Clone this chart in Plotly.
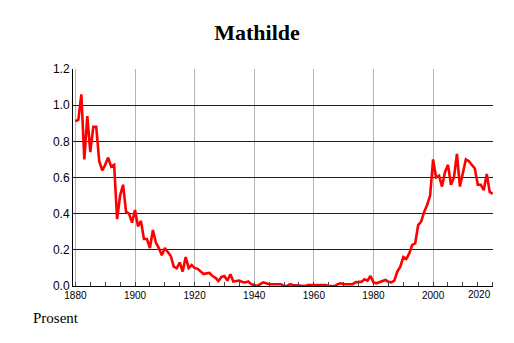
import plotly.graph_objects as go

# Andel (prosent) av nyfødte jenter som fikk navnet Mathilde, 1880–2020
years = list(range(1880, 2021))

pct_1880_1899 = [0.91, 0.92, 1.06, 0.70, 0.94, 0.74, 0.88, 0.88, 0.69, 0.64,
                 0.67, 0.71, 0.66, 0.67, 0.37, 0.50, 0.56, 0.41, 0.40, 0.35]
pct_1900_1919 = [0.42, 0.33, 0.36, 0.26, 0.26, 0.21, 0.31, 0.24, 0.21, 0.17,
                 0.21, 0.19, 0.166, 0.107, 0.098, 0.13, 0.08, 0.16, 0.10, 0.116]
pct_1920_1939 = [0.10, 0.095, 0.08, 0.066, 0.07, 0.072, 0.055, 0.045, 0.028, 0.05,
                 0.055, 0.03, 0.065, 0.025, 0.028, 0.03, 0.022, 0.02, 0.025, 0.01]
pct_1940_1959 = [0.005, 0.0, 0.01, 0.02, 0.015, 0.01, 0.01, 0.008, 0.01, 0.01,
                 0.0, 0.0, 0.01, 0.006, 0.005, 0.005, 0.0, 0.0, 0.005, 0.005]
pct_1960_1979 = [0.005, 0.005, 0.005, 0.005, 0.005, 0.0, 0.0, 0.0, 0.01, 0.015,
                 0.01, 0.01, 0.01, 0.01, 0.02, 0.024, 0.024, 0.037, 0.03, 0.055]
pct_1980_1999 = [0.02, 0.015, 0.02, 0.028, 0.033, 0.024, 0.02, 0.03, 0.08, 0.107,
                 0.16, 0.15, 0.18, 0.227, 0.236, 0.337, 0.356, 0.41, 0.448, 0.50]
pct_2000_2020 = [0.70, 0.60, 0.61, 0.55, 0.63, 0.67, 0.56, 0.60, 0.73, 0.55,
                 0.63, 0.70, 0.69, 0.67, 0.65, 0.56, 0.56, 0.53, 0.62, 0.52, 0.51]

percent = (pct_1880_1899 + pct_1900_1919 + pct_1920_1939 + pct_1940_1959
           + pct_1960_1979 + pct_1980_1999 + pct_2000_2020)

# the last year label sits flush with the right edge, so it is drawn separately
x_ticks = [1880, 1900, 1920, 1940, 1960, 1980, 2000]
x_last = 2020
y_ticks = [0.0, 0.2, 0.4, 0.6, 0.8, 1.0, 1.2]

tick_font = dict(family="Liberation Sans", size=10, color="black")

fig = go.Figure()
fig.add_trace(go.Scatter(
    x=years, y=percent, mode="lines",
    line=dict(color="#ff0000", width=2.6),
    hoverinfo="x+y", showlegend=False,
))

fig.update_layout(
    width=514, height=343,
    margin=dict(l=73, r=21, t=69, b=57),
    paper_bgcolor="white", plot_bgcolor="white",
    title=dict(text="<b>Mathilde</b>", x=0.5, xanchor="center",
               y=0.905, yanchor="middle",
               font=dict(family="Liberation Serif", size=22, color="black")),
    annotations=[
        dict(text="Prosent", xref="paper", yref="paper",
             x=-0.1, y=-0.148, xanchor="left", yanchor="middle",
             showarrow=False,
             font=dict(family="Liberation Serif", size=15, color="black")),
        dict(text=str(x_last), xref="x", yref="paper",
             x=x_last, y=0, xanchor="right", yanchor="top", yshift=-1,
             showarrow=False, font=tick_font),
    ],
)

fig.update_xaxes(
    range=[1879.2, 2020.1],
    tickmode="array", tickvals=x_ticks, ticktext=[str(v) for v in x_ticks],
    showgrid=True, gridcolor="#b4b4b4", gridwidth=1,
    showline=True, linecolor="black", linewidth=1,
    ticks="", zeroline=False,
    minor=dict(tick0=1880, dtick=5, ticks="inside", ticklen=4,
               tickcolor="#444", showgrid=False),
    tickfont=tick_font,
)

fig.update_yaxes(
    range=[0, 1.2],
    tickmode="array", tickvals=y_ticks, ticktext=[f"{v:.1f}" for v in y_ticks],
    showgrid=True, gridcolor="#1e1e1e", gridwidth=1,
    showline=True, linecolor="black", linewidth=1,
    ticks="", zeroline=False,
    tickfont=dict(family="Liberation Sans", size=12, color="black"),
)

fig.write_html("out.html")
